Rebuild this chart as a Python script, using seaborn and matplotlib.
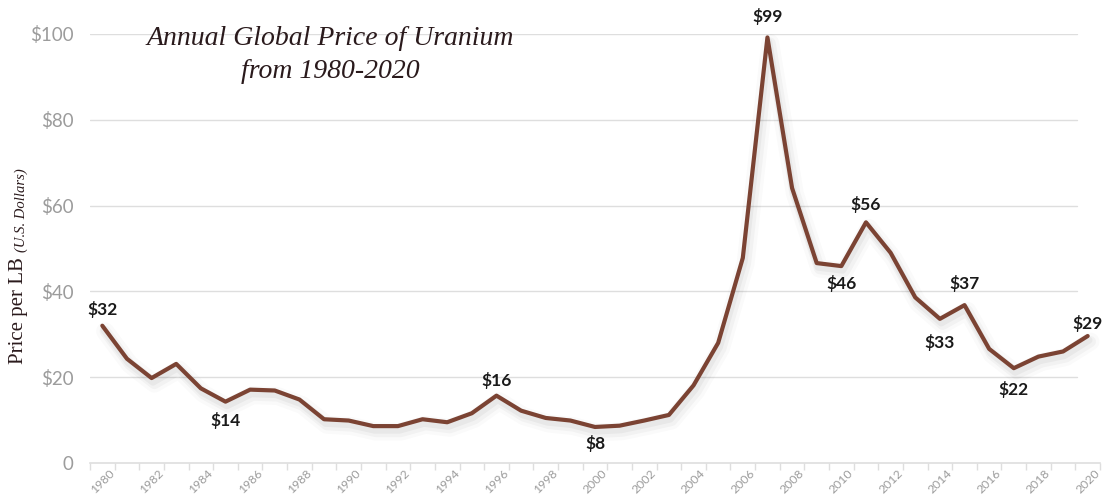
import matplotlib
matplotlib.use('Agg')
import matplotlib.pyplot as plt
import matplotlib.patheffects as pe
import seaborn as sns
import pandas as pd

years = list(range(1980, 2021))
prices = [32.0, 24.3, 19.8, 23.1, 17.4, 14.3, 17.1, 16.9, 14.8, 10.2,
          9.9, 8.6, 8.6, 10.2, 9.5, 11.6, 15.7, 12.2, 10.5, 9.9,
          8.4, 8.7, 9.9, 11.2, 18.1, 28.0, 47.8, 99.2, 64.1, 46.6,
          45.9, 56.1, 49.0, 38.6, 33.6, 36.8, 26.6, 22.1, 24.8, 26.0,
          29.6]

label_years = [1980, 1985, 1996, 2000, 2007, 2010, 2011, 2014, 2015, 2017, 2020]
label_texts = ['$32', '$14', '$16', '$8', '$99', '$46', '$56', '$33', '$37', '$22', '$29']
label_offsets = [16, -19, 15, -17, 21, -17, 18, -24, 22, -21, 13]

df = pd.DataFrame({'year': years, 'price': prices})

line_color = '#7b4333'
grid_color = '#dedede'
tick_color = '#9c9c9c'
sans = ['Lato', 'DejaVu Sans']
serif = ['Liberation Serif', 'DejaVu Serif']

sns.set_style('white')

fig = plt.figure(figsize=(11.09, 4.98), dpi=100)
ax = fig.add_axes([90 / 1109, 35 / 498, 1010 / 1109, 429 / 498])

shadow = [pe.SimpleLineShadow(offset=(2, -4), shadow_color='black', alpha=0.02, linewidth=13),
          pe.SimpleLineShadow(offset=(2, -4), shadow_color='black', alpha=0.03, linewidth=8),
          pe.SimpleLineShadow(offset=(1, -3), shadow_color='black', alpha=0.04, linewidth=5),
          pe.Normal()]

sns.lineplot(data=df, x='year', y='price', color=line_color, linewidth=3.0,
             ax=ax, path_effects=shadow, zorder=3)

ax.set_xlim(1979.5, 2020.5)
ax.set_ylim(0, 100)

for y in [20, 40, 60, 80, 100]:
    ax.axhline(y, xmin=0, xmax=987 / 1010, color=grid_color, linewidth=1, zorder=1)

for side in ['top', 'right', 'left']:
    ax.spines[side].set_visible(False)
ax.spines['bottom'].set_color(grid_color)
ax.spines['bottom'].set_linewidth(1.2)

ax.set_xticks(list(range(1980, 2021, 2)))
ax.set_xticklabels([str(y) for y in range(1980, 2021, 2)], rotation=45,
                   ha='center', va='top', fontsize=8.8, color=tick_color,
                   family=sans)
ax.set_xticks([y - 0.5 for y in range(1980, 2022)], minor=True)
ax.tick_params(axis='x', which='major', length=0, pad=3)
ax.tick_params(axis='x', which='minor', length=5, color=grid_color, width=1,
               direction='out', bottom=True)

ax.set_yticks([0, 20, 40, 60, 80, 100])
ax.set_yticklabels(['0', '$20', '$40', '$60', '$80', '$100'], fontsize=13.5,
                   color=tick_color, family=sans)
ax.tick_params(axis='y', length=0, pad=12)
ax.set_xlabel('')
ax.set_ylabel('')

for yr, txt, off in zip(label_years, label_texts, label_offsets):
    ax.annotate(txt, xy=(yr, prices[years.index(yr)]), xytext=(0, off),
                textcoords='offset pixels', ha='center', va='center',
                fontsize=12.5, fontweight='bold', color='#1a1a1a',
                family=sans, annotation_clip=False, zorder=5)

fig.text(330 / 1109, 1 - 38 / 498, 'Annual Global Price of Uranium',
         ha='center', va='center', fontsize=20, style='italic',
         color='#2a1a1c', family=serif)
fig.text(330 / 1109, 1 - 71 / 498, 'from 1980-2020',
         ha='center', va='center', fontsize=20, style='italic',
         color='#2a1a1c', family=serif)

fig.text(19 / 1109, 1 - 311 / 498, 'Price per LB', rotation=90,
         ha='center', va='center', fontsize=15, color='#2a1a1c', family=serif)
fig.text(21 / 1109, 1 - 210 / 498, '(U.S. Dollars)', rotation=90,
         ha='center', va='center', fontsize=10.5, style='italic',
         color='#2a1a1c', family=serif)

fig.savefig('out.png', dpi=100)
